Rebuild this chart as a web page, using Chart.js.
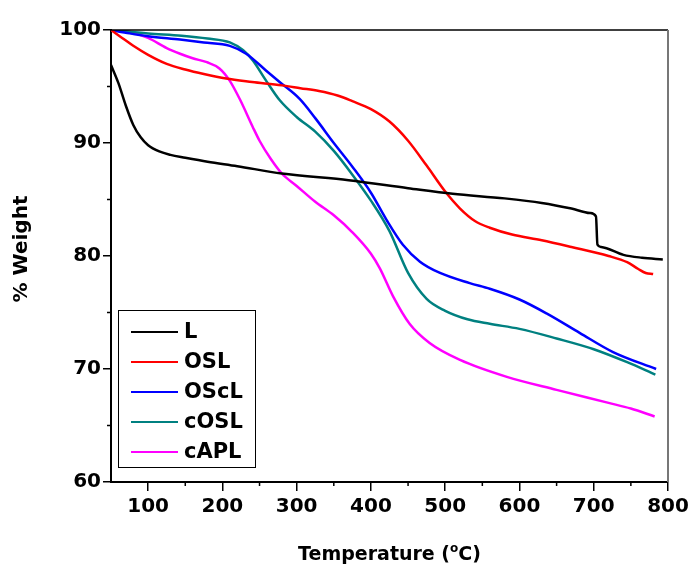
<!DOCTYPE html>
<html lang="en">
<head>
<meta charset="UTF-8">
<title>TGA - % Weight vs Temperature</title>
<script src="https://cdn.jsdelivr.net/npm/chart.js@4.4.1/dist/chart.umd.min.js"></script>
<style>
  html, body { margin: 0; padding: 0; background: #fff; }
  canvas { display: block; }
</style>
</head>
<body>
<canvas id="tgaChart" width="689" height="565"></canvas>
<script>
// Sample names and line colours
const seriesNames = ['L', 'OSL', 'OScL', 'cOSL', 'cAPL'];
const seriesColors = ['#000000', '#ff0000', '#0000ff', '#008080', '#ff00ff'];

// L
const lTemp   = [50, 60, 70, 80, 90, 100, 115, 130, 150, 180, 220, 280, 370, 450, 510, 580, 630, 670, 695, 703, 705, 710, 740, 765, 793];
const lWeight = [96.9, 95.3, 93.3, 91.6, 90.5, 89.8, 89.25, 88.95, 88.7, 88.35, 87.95, 87.3, 86.7, 86.0, 85.5, 85.1, 84.7, 84.2, 83.8, 83.5, 81.0, 80.8, 80.1, 79.85, 79.7];

// OSL
const oslTemp   = [50, 65, 80, 100, 125, 150, 175, 205, 240, 280, 305, 330, 355, 375, 400, 425, 450, 475, 500, 520, 540, 560, 590, 630, 670, 720, 745, 760, 770, 780];
const oslWeight = [100, 99.3, 98.6, 97.8, 97.0, 96.5, 96.1, 95.7, 95.4, 95.1, 94.85, 94.6, 94.2, 93.7, 93.0, 91.9, 90.2, 88.0, 85.7, 84.2, 83.1, 82.5, 81.9, 81.4, 80.8, 80.0, 79.45, 78.85, 78.5, 78.4];

// OScL
const osclTemp   = [50, 75, 100, 143, 175, 210, 232, 259, 277, 304, 325, 350, 375, 400, 421, 443, 466, 493, 533, 560, 600, 637, 681, 726, 784];
const osclWeight = [100, 99.7, 99.45, 99.15, 98.9, 98.6, 97.9, 96.4, 95.4, 93.9, 92.2, 90.0, 87.9, 85.6, 83.2, 81.0, 79.5, 78.5, 77.6, 77.1, 76.15, 74.9, 73.2, 71.5, 70.0];

// cOSL
const cosllTemp   = [50, 100, 145, 180, 210, 228, 241, 259, 277, 300, 325, 350, 375, 400, 425, 450, 475, 500, 530, 560, 600, 650, 700, 745, 783];
const cosllWeight = [100, 99.7, 99.5, 99.25, 98.9, 98.2, 97.3, 95.5, 93.8, 92.3, 91.0, 89.3, 87.2, 84.9, 82.2, 78.5, 76.2, 75.15, 74.4, 74.0, 73.55, 72.7, 71.75, 70.6, 69.5];

// cAPL
const caplTemp   = [50, 75, 100, 125, 143, 160, 179, 196, 210, 224, 241, 250, 265, 280, 300, 325, 350, 375, 400, 412, 430, 452, 479, 520, 583, 650, 720, 750, 782];
const caplWeight = [100, 99.85, 99.3, 98.4, 97.9, 97.5, 97.15, 96.6, 95.5, 93.8, 91.4, 90.2, 88.6, 87.3, 86.2, 84.8, 83.6, 82.1, 80.2, 78.9, 76.4, 74.0, 72.3, 70.8, 69.3, 68.15, 67.0, 66.5, 65.8];

// Axis ticks
const xTicks = [100, 200, 300, 400, 500, 600, 700, 800];
const xMinor = [150, 250, 350, 450, 550, 650, 750];
const yTicks = [60, 70, 80, 90, 100];
const yMinor = [65, 75, 85, 95];

const FONT = '"DejaVu Sans", "Liberation Sans", Arial, sans-serif';

function pairs(xs, ys) {
    return xs.map((x, i) => ({ x: x, y: ys[i] }));
}

const seriesData = [
    pairs(lTemp, lWeight),
    pairs(oslTemp, oslWeight),
    pairs(osclTemp, osclWeight),
    pairs(cosllTemp, cosllWeight),
    pairs(caplTemp, caplWeight)
];

// frame, minor ticks, axis titles and the boxed legend
const decorPlugin = {
    id: 'decor',
    afterDraw(chart) {
        const ctx = chart.ctx;
        const area = chart.chartArea;
        const xs = chart.scales.x;
        const ys = chart.scales.y;
        ctx.save();

        // top and right edges of the frame
        ctx.strokeStyle = '#000';
        ctx.lineWidth = 1.5;
        ctx.beginPath();
        ctx.moveTo(area.left, area.top);
        ctx.lineTo(area.right, area.top);
        ctx.stroke();
        ctx.strokeStyle = '#777';
        ctx.lineWidth = 2;
        ctx.beginPath();
        ctx.moveTo(area.right, area.top);
        ctx.lineTo(area.right, area.bottom);
        ctx.stroke();

        // minor ticks
        ctx.strokeStyle = '#000';
        ctx.lineWidth = 1.5;
        ctx.beginPath();
        xMinor.forEach(v => {
            const px = xs.getPixelForValue(v);
            ctx.moveTo(px, area.bottom);
            ctx.lineTo(px, area.bottom + 4);
        });
        yMinor.forEach(v => {
            const py = ys.getPixelForValue(v);
            ctx.moveTo(area.left, py);
            ctx.lineTo(area.left - 4, py);
        });
        ctx.stroke();

        // y title
        ctx.fillStyle = '#000';
        ctx.font = 'bold 20px ' + FONT;
        ctx.textAlign = 'center';
        ctx.textBaseline = 'middle';
        ctx.save();
        ctx.translate(22, 249);
        ctx.rotate(-Math.PI / 2);
        ctx.fillText('% Weight', 0, 0);
        ctx.restore();

        // x title with superscript o
        const big = 'bold 19px ' + FONT;
        const small = 'bold 12px ' + FONT;
        const partA = 'Temperature (';
        const partB = 'o';
        const partC = 'C)';
        ctx.textAlign = 'left';
        ctx.textBaseline = 'alphabetic';
        ctx.font = big;
        const wA = ctx.measureText(partA).width;
        const wC = ctx.measureText(partC).width;
        ctx.font = small;
        const wB = ctx.measureText(partB).width;
        const total = wA + wB + wC;
        let tx = (area.left + area.right) / 2 - total / 2;
        const base = 560;
        ctx.font = big;
        ctx.fillText(partA, tx, base);
        tx += wA;
        ctx.font = small;
        ctx.fillText(partB, tx, base - 8);
        tx += wB;
        ctx.font = big;
        ctx.fillText(partC, tx, base);

        // legend box
        const lx = 118, ly = 310, lw = 137, lh = 157;
        ctx.strokeStyle = '#000';
        ctx.lineWidth = 1;
        ctx.strokeRect(lx + 0.5, ly + 0.5, lw, lh);
        ctx.font = 'bold 21px ' + FONT;
        ctx.textBaseline = 'middle';
        chart.data.datasets.forEach((ds, i) => {
            const ry = 332 + i * 30;
            ctx.strokeStyle = ds.borderColor;
            ctx.lineWidth = 2;
            ctx.beginPath();
            ctx.moveTo(131, ry);
            ctx.lineTo(178, ry);
            ctx.stroke();
            ctx.fillStyle = '#000';
            ctx.fillText(ds.label, 184, ry + 1);
        });

        ctx.restore();
    }
};

new Chart(document.getElementById('tgaChart'), {
    type: 'line',
    data: {
        datasets: seriesNames.map((name, i) => ({
            label: name,
            data: seriesData[i],
            borderColor: seriesColors[i],
            backgroundColor: seriesColors[i],
            borderWidth: 2.5,
            pointRadius: 0,
            fill: false,
            cubicInterpolationMode: 'monotone'
        }))
    },
    options: {
        responsive: false,
        animation: false,
        events: [],
        layout: { padding: { left: 0, top: 30, right: 21, bottom: 0 } },
        plugins: {
            legend: { display: false },
            tooltip: { enabled: false },
            title: { display: false }
        },
        scales: {
            x: {
                type: 'linear',
                min: 50,
                max: 800,
                afterBuildTicks: s => { s.ticks = xTicks.map(v => ({ value: v })); },
                afterFit: s => { s.height = 83; s.paddingLeft = 0; s.paddingRight = 0; },
                ticks: {
                    color: '#000',
                    font: { family: FONT, size: 20, weight: 'bold' },
                    padding: 4,
                    maxRotation: 0,
                    autoSkip: false
                },
                grid: { drawOnChartArea: false, drawTicks: true, tickLength: 9, color: '#000', lineWidth: 1.5 },
                border: { display: true, color: '#000', width: 2 }
            },
            y: {
                min: 60,
                max: 100,
                afterBuildTicks: s => { s.ticks = yTicks.map(v => ({ value: v })); },
                afterFit: s => { s.width = 111; s.paddingTop = 0; s.paddingBottom = 0; },
                ticks: {
                    color: '#000',
                    font: { family: FONT, size: 20, weight: 'bold' },
                    padding: 2
                },
                grid: { drawOnChartArea: false, drawTicks: true, tickLength: 8, color: '#000', lineWidth: 1.5 },
                border: { display: true, color: '#000', width: 2 }
            }
        }
    },
    plugins: [decorPlugin]
});
</script>
</body>
</html>
